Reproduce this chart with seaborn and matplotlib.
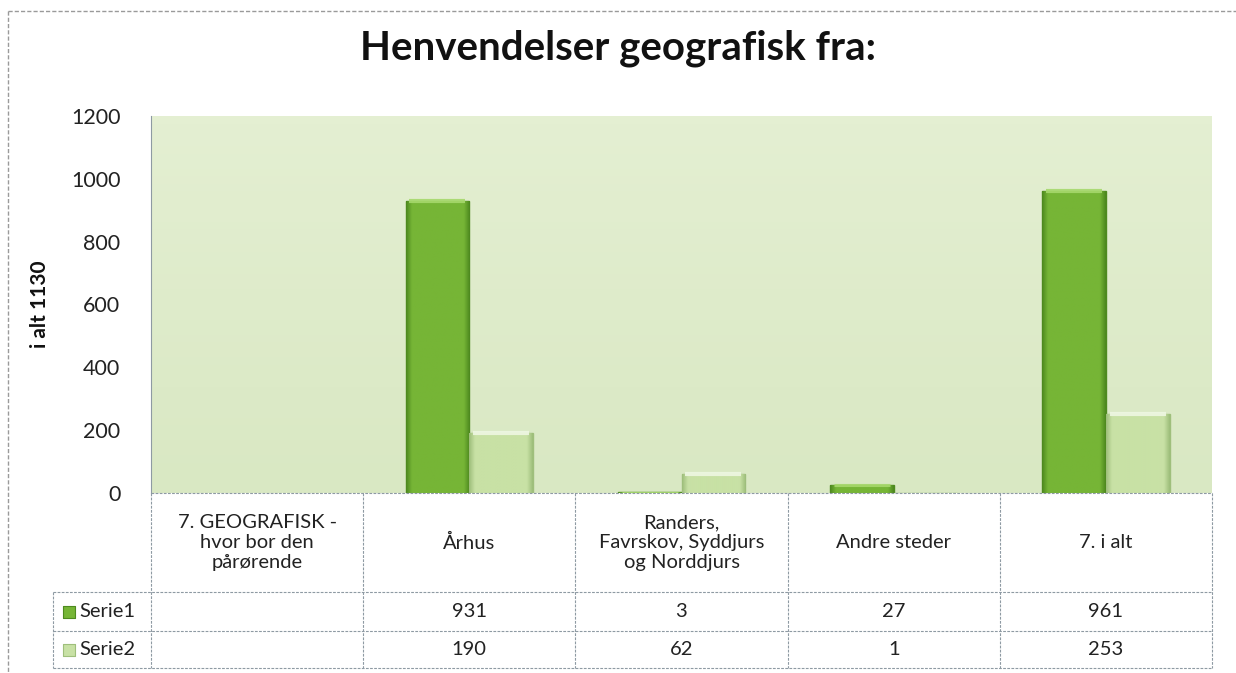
import numpy as np
import pandas as pd
import matplotlib
matplotlib.use("Agg")
import matplotlib.pyplot as plt
from matplotlib.colors import to_rgb
import seaborn as sns

# ---- data ----
categories = ["7. GEOGRAFISK -\nhvor bor den\npårørende", "Århus",
              "Randers,\nFavrskov, Syddjurs\nog Norddjurs", "Andre steder", "7. i alt"]
series_names = ["Serie1", "Serie2"]
serie1 = [np.nan, 931, 3, 27, 961]
serie2 = [np.nan, 190, 62, 1, 253]
y_ticks = [0, 200, 400, 600, 800, 1000, 1200]
title = "Henvendelser geografisk fra:"
ylabel = "i alt 1130"

sns.set_theme(style="white")
plt.rcParams['font.family'] = ['Lato', 'DejaVu Sans']

W, H = 1236, 673
fig = plt.figure(figsize=(W / 100, H / 100), dpi=100)
fig.patch.set_facecolor("white")

# plot area in pixels
L, R, T, B = 151, 1212, 116, 493
ax = fig.add_axes([L / W, 1 - B / H, (R - L) / W, (B - T) / H])

df = pd.DataFrame({
    "cat": categories * 2,
    "series": [series_names[0]] * len(categories) + [series_names[1]] * len(categories),
    "value": serie1 + serie2,
})
col1, col2 = "#76b536", "#c8e1a5"
edge1, edge2 = "#4e8a1f", "#9fbf7c"
sns.barplot(data=df, x="cat", y="value", hue="series", hue_order=series_names,
            order=categories, palette=[col1, col2], width=0.6, gap=0,
            legend=False, ax=ax, saturation=1)

ax.set_ylim(0, 1200)
ax.set_xlim(-0.5, len(categories) - 0.5)

# bevel-like shading clipped to every bar patch
def bar_gradient(center, edge, hi):
    c, e, h = np.array(to_rgb(center)), np.array(to_rgb(edge)), np.array(to_rgb(hi))
    xs = np.linspace(-1, 1, 60)
    prof = np.clip((np.abs(xs) - 0.82) / 0.18, 0, 1)[None, :, None]
    img = c[None, None, :] * (1 - prof) + e[None, None, :] * prof
    img = np.repeat(img, 40, axis=0)
    return img

for cont, c, e, hi in zip(ax.containers, [col1, col2], [edge1, edge2],
                          ["#a6d86c", "#eef7e2"]):
    for p in cont.patches:
        h = p.get_height()
        if not np.isfinite(h) or h <= 0:
            continue
        x0, w = p.get_x(), p.get_width()
        img = bar_gradient(c, e, hi)
        im = ax.imshow(img, extent=[x0, x0 + w, 0, h], aspect="auto",
                       zorder=p.get_zorder() + 0.05, origin="lower")
        im.set_clip_path(p)
        p.set_edgecolor(e)
        p.set_linewidth(1.0)
        # top bevel highlight, thickness limited by bar height
        ax.plot([x0 + w * 0.06, x0 + w * 0.94], [h, h], color=hi,
                lw=min(3.0, max(0.8, h / 12)), solid_capstyle="butt",
                zorder=p.get_zorder() + 0.1, alpha=0.9)

# plot-area background gradient
bg = np.linspace(0, 1, 50)[:, None, None]
top_c, bot_c = np.array(to_rgb("#e4efd2")), np.array(to_rgb("#d9e8c3"))
bg_img = top_c * (1 - bg) + bot_c * bg
ax.imshow(bg_img, extent=[0, 1, 0, 1], transform=ax.transAxes, aspect="auto",
          zorder=0, origin="upper")
ax.set_ylim(0, 1200)
ax.set_xlim(-0.5, len(categories) - 0.5)

ax.set_yticks(y_ticks)
ax.set_yticklabels([str(t) for t in y_ticks], fontsize=15.5, color="#222222")
ax.set_xticks([])
ax.set_xlabel("")
ax.set_ylabel("")
ax.tick_params(axis="y", length=0, pad=22)
for s in ["top", "right", "bottom"]:
    ax.spines[s].set_visible(False)
ax.spines["left"].set_color("#8e9aa3")
ax.spines["left"].set_linestyle((0, (2, 1)))
ax.spines["left"].set_linewidth(0.8)

# ---- overlay in pixel coordinates for table / frame ----
ov = fig.add_axes([0, 0, 1, 1], facecolor="none")
ov.set_xlim(0, W)
ov.set_ylim(H, 0)
ov.axis("off")

def px_x(xdata):
    disp = ax.transData.transform((xdata, 0))
    return disp[0] * 100 / fig.dpi

line_kw = dict(color="#8e9aa3", lw=0.8, linestyle=(0, (2.5, 1.2)))
rows = [B, 592, 631, 668]
legL = 53
ov.plot([L, R], [rows[0], rows[0]], **line_kw)
for yy in rows[1:]:
    ov.plot([legL, R], [yy, yy], **line_kw)
bounds = [px_x(i - 0.5) for i in range(len(categories) + 1)]
for xb in bounds:
    ov.plot([xb, xb], [rows[0], rows[-1]], **line_kw)
ov.plot([legL, legL], [rows[1], rows[-1]], **line_kw)

for i, c in enumerate(categories):
    ov.text(px_x(i), (rows[0] + rows[1]) / 2, c, ha="center", va="center",
            fontsize=14.5, color="#222222", linespacing=1.2)

for r, (name, vals, col, ec) in enumerate(zip(series_names, [serie1, serie2],
                                               [col1, col2], [edge1, edge2])):
    yc = (rows[r + 1] + rows[r + 2]) / 2
    ov.scatter([69], [yc], marker="s", s=75, color=col, edgecolor=ec, lw=0.8)
    ov.text(79, yc, name, ha="left", va="center", fontsize=14.5, color="#222222")
    for i, v in enumerate(vals):
        if np.isfinite(v):
            ov.text(px_x(i), yc, f"{int(v)}", ha="center", va="center",
                    fontsize=14.5, color="#222222")

# outer frame (dashed)
frame_kw = dict(color="#9a9a9a", lw=1.0, linestyle=(0, (3, 1.5)))
ov.plot([8, W], [11, 11], **frame_kw)
ov.plot([8, 8], [11, H], **frame_kw)

# y label and title
fig.text(40 / W, 1 - (T + B) / 2 / H, ylabel, rotation=90, ha="center", va="center",
         fontsize=15, fontweight="bold", color="#111111")
fig.text(0.5, 1 - 48 / H, title, ha="center", va="center", fontsize=29,
         fontweight="bold", color="#111111")

fig.savefig("out.png", dpi=100, facecolor="white")
